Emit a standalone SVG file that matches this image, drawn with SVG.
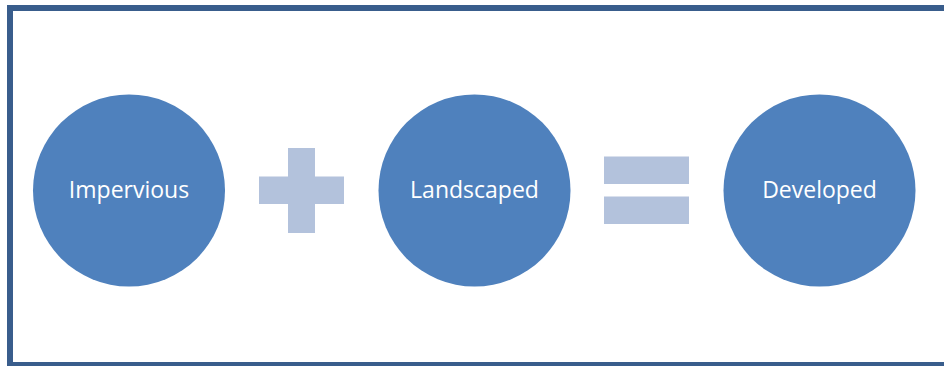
<svg xmlns="http://www.w3.org/2000/svg" width="944" height="366" viewBox="0 0 944 366">
<style>
.node circle{fill:#4f81bd}
.node text{fill:#ffffff;font-family:"Open Sans","Liberation Sans",sans-serif;font-size:23px;text-anchor:middle}
.op{fill:#b3c2dc}
</style>
<rect x="0" y="0" width="944" height="366" fill="#ffffff"/>
<rect x="10" y="8" width="940" height="357" fill="none" stroke="#395d8c" stroke-width="6"/>
<g id="impervious" class="node"><circle cx="129" cy="190.5" r="96"/><text x="129" y="198">Impervious</text></g>
<g id="landscaped" class="node"><circle cx="474.5" cy="190.5" r="96"/><text x="474.5" y="198">Landscaped</text></g>
<g id="developed" class="node"><circle cx="819.5" cy="190.5" r="96"/><text x="819.5" y="198">Developed</text></g>
<g id="connectors">
<g id="plus"><rect class="op" x="259" y="176.5" width="85" height="27.5"/><rect class="op" x="288" y="148" width="27" height="85"/></g>
<g id="equals"><rect class="op" x="604" y="156.5" width="85" height="27.5"/><rect class="op" x="604" y="196.5" width="85" height="27.5"/></g>
</g>
</svg>
